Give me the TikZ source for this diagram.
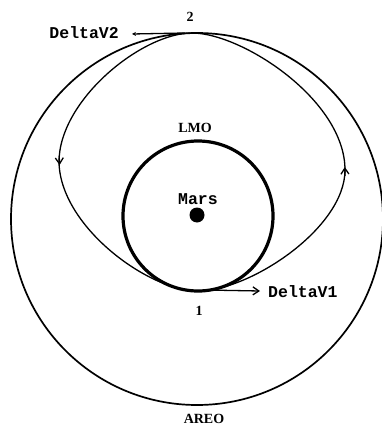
\documentclass[tikz,border=0pt]{standalone}
\usepackage{fontspec}
\setmainfont{Liberation Serif}
\setmonofont{Liberation Mono}
\usetikzlibrary{arrows.meta}
\begin{document}
\begin{tikzpicture}[x=1pt,y=-1pt,
  areo/.style={line width=1.7pt},
  lmo/.style={line width=3.2pt},
  transfer/.style={line width=1.3pt},
  burn/.style={line width=1.3pt},
  mono/.style={font=\ttfamily\bfseries\fontsize{16.5}{17}\selectfont, inner sep=0pt},
  serif/.style={font=\bfseries\fontsize{14}{15}\selectfont, inner sep=0pt}]
\useasboundingbox (0,0) rectangle (382,431);
\fill[white] (0,0) rectangle (382,431);
% AREO orbit
\draw[areo] (197,219) circle (186);
% LMO orbit
\draw[lmo] (198,216) circle (75);
% Mars
\fill (197,215) circle (7.5);
% transfer orbit
\coordinate (T) at (192,33);
\coordinate (R) at (345,170);
\coordinate (B) at (198,291);
\coordinate (L) at (59,162);
\draw[transfer] (T) .. controls (242,33) and (345,100) .. (R)
  .. controls (345,228) and (250,291) .. (B)
  .. controls (148,291) and (60,226) .. (L)
  .. controls (59,100) and (142,33) .. (T) -- cycle;
% direction arrows on transfer orbit
\draw[transfer, -{Straight Barb[length=6pt,width=8pt]}] (59.2,156) -- (59.6,165);
\draw[transfer, -{Straight Barb[length=6pt,width=8pt]}] (345,176) -- (344.8,167);
% burns
\coordinate (p1) at (205,290);
\coordinate (p2) at (185,33);
\coordinate (v1) at (260,291);
\coordinate (v2) at (132,34);
\draw[burn, -{Straight Barb[length=6pt,width=8pt]}] (p1) -- (v1);
\draw[burn, -{Stealth[length=4pt,width=4pt]}] (p2) -- (v2);
% labels
\node[mono, anchor=west] (dv1) at (268,292) {DeltaV1};
\node[mono, anchor=east] (dv2) at (119,33) {DeltaV2};
\node[mono] (mars) at (198,199) {Mars};
\node[serif] (lmo) at (195,128) {LMO};
\node[serif] (areo) at (204,419) {AREO};
\node[serif] (n1) at (199,311) {1};
\node[serif] (n2) at (190,17) {2};
\end{tikzpicture}
\end{document}
